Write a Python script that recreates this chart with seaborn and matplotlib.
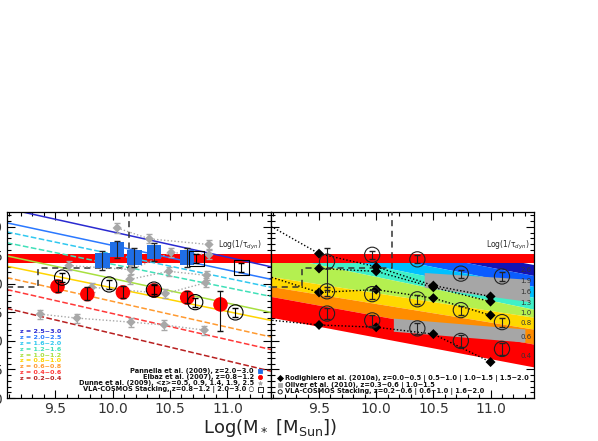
"""
SSFR vs stellar mass: literature comparison (left) and redshift-band model (right).
"""

import matplotlib

matplotlib.use("Agg")
import matplotlib.pyplot as plt
import numpy as np
import pandas as pd
import seaborn as sns
from matplotlib.ticker import FormatStrFormatter, MultipleLocator

# --- Axis ranges ---
XLIM = (9.08, 11.38)
YLIM = (-2.0, 1.26)
XTICKS = [9.5, 10.0, 10.5, 11.0]
YTICKS = [-2.0, -1.5, -1.0, -0.5, 0.0, 0.5, 1.0]

# --- Left panel: fitted SSFR lines per redshift bin (value at left / right edge) ---
Z_BINS = ["2.5\u22123.0", "2.0\u22122.5", "1.6\u22122.0", "1.2\u22121.6", "1.0\u22121.2",
          "0.8\u22121.0", "0.6\u22120.8", "0.4\u22120.6", "0.2\u22120.4"]
Z_COLORS = ["#2a2ad0", "#2a78ff", "#30c8f0", "#40e0b8", "#a8e040",
            "#ffd400", "#ff9a30", "#ff3838", "#b82020"]
Z_STYLES = ["-", "-", "--", "--", "-", "-", "--", "--", "--"]
FIT_LEFT = [1.32, 1.07, 0.91, 0.72, 0.49, 0.31, 0.11, -0.10, -0.43]
FIT_RIGHT = [0.30, 0.08, -0.06, -0.22, -0.50, -0.64, -0.93, -1.15, -1.53]

# 1/tau_dyn band
TAU_LO, TAU_HI = 0.37, 0.53

# mass-completeness step (dashed)
STEP_X = [9.08, 9.35, 9.35, 10.14, 10.14]
STEP_Y = [-0.063, -0.063, 0.286, 0.286, 1.26]

# Pannella et al. (2009)
PAN_M = [9.91, 10.04, 10.19, 10.36, 10.65]
PAN_Y = [0.41, 0.60, 0.46, 0.56, 0.46]
PAN_ERR = [0.17, 0.15, 0.17, 0.16, 0.17]

# Elbaz et al. (2007)
ELB_M = [9.52, 9.78, 10.09, 10.36, 10.65, 10.94]
ELB_Y = [-0.045, -0.18, -0.15, -0.115, -0.24, -0.36]
ELB_ERR_LO = [0.10, 0.10, 0.10, 0.10, 0.10, 0.47]
ELB_ERR_HI = [0.12, 0.12, 0.12, 0.12, 0.12, 0.23]

# Dunne et al. (2009), one list per <z>
DUN25_M = [10.04, 10.32, 10.84]
DUN25_Y = [0.98, 0.79, 0.69]
DUN19_M = [9.62, 10.16, 10.51, 10.84]
DUN19_Y = [0.32, 0.25, 0.55, 0.51]
DUN14_M = [10.15, 10.49, 10.82]
DUN14_Y = [0.08, 0.22, 0.15]
DUN09_M = [9.82, 10.46, 10.81]
DUN09_Y = [-0.06, -0.17, 0.02]
DUN05_M = [9.37, 9.69, 10.16, 10.45, 10.80]
DUN05_Y = [-0.53, -0.60, -0.67, -0.72, -0.81]

# VLA-COSMOS stacking (left)
VLA_C_M = [9.56, 9.97, 10.36, 10.72, 11.07]
VLA_C_Y = [0.11, -0.01, -0.10, -0.32, -0.50]
VLA_S_M = [10.73, 11.12]
VLA_S_Y = [0.44, 0.29]

# --- Right panel: redshift bands, edges at left / right of the panel ---
BAND_LABELS = ["2.6", "1.9", "1.6", "1.3", "1.0", "0.8", "0.6", "0.4"]
BAND_COLORS = ["#1414b4", "#0a5cff", "#00c0ff", "#40f0c8", "#b4f050",
               "#ffd800", "#ff8c00", "#ff0000"]
EDGE_LEFT = [1.21, 1.035, 0.861, 0.686, 0.512, 0.129, -0.045, -0.22, -0.585]
EDGE_RIGHT = [0.338, 0.146, -0.045, -0.237, -0.446, -0.585, -0.794, -1.056, -1.456]

# Rodighiero et al. (2010a)
ROD_M = [9.0, 9.5, 10.0, 10.5, 11.0]
ROD_Z15 = [1.10, 0.53, 0.30, -0.03, -0.22]
ROD_Z10_M = [9.5, 10.0, 10.5, 11.0]
ROD_Z10 = [0.27, 0.22, -0.06, -0.31]
ROD_Z05 = [0.17, -0.15, -0.10, -0.25, -0.55]
ROD_Z00 = [-0.62, -0.72, -0.76, -0.88, -1.37]

# Oliver et al. (2010) boxes: mass range, top and bottom at both ends
OLI_HI_M = [10.42, 11.34]
OLI_HI_TOP = [0.20, 0.08]
OLI_HI_BOT = [-0.06, -0.31]
OLI_LO_M = [10.15, 11.30]
OLI_LO_TOP = [-0.60, -0.79]
OLI_LO_BOT = [-0.83, -1.02]

# VLA-COSMOS stacking (right)
VLA_R_M = [9.57, 9.965, 10.36, 10.74, 11.10]
VLA_R_HI = [0.39, 0.51, 0.43, 0.18, 0.13]
VLA_R_HI_LO = [0.50, 0.07, 0.07, 0.07, 0.08]
VLA_R_HI_UP = [0.24, 0.07, 0.07, 0.07, 0.08]
VLA_R_MID = [-0.13, -0.18, -0.27, -0.46, -0.67]
VLA_R_LOW = [-0.52, -0.64, -0.78, -1.00, -1.14]

sns.set_theme(style="ticks")
plt.rcParams["font.family"] = ["DejaVu Sans"]
plt.rcParams["axes.linewidth"] = 0.9


def style_axes(ax, show_ylabels):
    ax.set_xlim(*XLIM)
    ax.set_ylim(*YLIM)
    ax.set_xticks(XTICKS)
    ax.set_yticks(YTICKS)
    ax.xaxis.set_minor_locator(MultipleLocator(0.1))
    ax.yaxis.set_minor_locator(MultipleLocator(0.1))
    ax.xaxis.set_major_formatter(FormatStrFormatter("%.1f"))
    ax.yaxis.set_major_formatter(FormatStrFormatter("%.1f"))
    ax.tick_params(which="both", direction="in", top=True, right=True, width=0.8,
                   colors="black", labelcolor="#333333")
    ax.tick_params(which="major", length=6, labelsize=10, pad=3)
    ax.tick_params(which="minor", length=3)
    if not show_ylabels:
        ax.tick_params(labelleft=False)
    ax.set_xlabel("")
    ax.set_ylabel("")
    for sp in ax.spines.values():
        sp.set_color("black")


def edge_line(left, right, xs):
    return left + (right - left) * (xs - XLIM[0]) / (XLIM[1] - XLIM[0])


fig = plt.figure(figsize=(5.98, 4.41), dpi=100)
ax1 = fig.add_axes([7 / 598, 43 / 441, 264 / 598, 186 / 441])
ax2 = fig.add_axes([271 / 598, 43 / 441, 263 / 598, 186 / 441])

xs = np.linspace(XLIM[0], XLIM[1], 60)

# ---------------- left panel ----------------
ax1.axhspan(TAU_LO, TAU_HI, color="#ff0000", lw=0, zorder=1)
ax1.text(11.3, TAU_HI + 0.03, "Log(1/\u03c4$_{dyn}$)", fontsize=5.5, ha="right", va="bottom")

for lab, col, ls, yl, yr in zip(Z_BINS, Z_COLORS, Z_STYLES, FIT_LEFT, FIT_RIGHT):
    fit = pd.DataFrame({"m": [XLIM[0], XLIM[1]], "y": [yl, yr]})
    sns.lineplot(data=fit, x="m", y="y", ax=ax1, color=col, lw=1.1, ls=ls,
                 estimator=None, sort=False, zorder=2)

ax1.plot(STEP_X, STEP_Y, color="#333333", lw=1.1, dashes=(4, 3), zorder=3)

# Dunne stacks
for m, y in [(DUN25_M, DUN25_Y), (DUN19_M, DUN19_Y), (DUN14_M, DUN14_Y),
             (DUN09_M, DUN09_Y), (DUN05_M, DUN05_Y)]:
    ax1.plot(m, y, color="#a8a8a8", ls=(0, (1, 1.5)), lw=1.0, zorder=3)
    ax1.errorbar(m, y, yerr=0.08, fmt="none", ecolor="#a8a8a8", elinewidth=0.8,
                 capsize=2.5, zorder=3)
    sns.scatterplot(x=m, y=y, ax=ax1, marker="D", s=22, color="#a8a8a8",
                    edgecolor="none", zorder=4)

# Pannella squares
ax1.errorbar(PAN_M, PAN_Y, yerr=PAN_ERR, fmt="none", ecolor="#222222",
             elinewidth=0.8, capsize=2.5, zorder=5)
sns.scatterplot(x=PAN_M, y=PAN_Y, ax=ax1, marker="s", s=110, color="#1f6ee6",
                edgecolor="none", zorder=4)

# Elbaz circles
sns.scatterplot(x=ELB_M, y=ELB_Y, ax=ax1, marker="o", s=110, color="#ff0000",
                edgecolor="none", zorder=4)
ax1.errorbar(ELB_M, ELB_Y, yerr=[ELB_ERR_LO, ELB_ERR_HI], fmt="none",
             ecolor="#111111", elinewidth=0.8, capsize=2.5, zorder=5)

# VLA-COSMOS stacking
sns.scatterplot(x=VLA_C_M, y=VLA_C_Y, ax=ax1, marker="o", s=120, facecolor="none",
                edgecolor="black", linewidth=0.8, zorder=6)
ax1.errorbar(VLA_C_M, VLA_C_Y, yerr=0.08, fmt="none", ecolor="black",
             elinewidth=0.8, capsize=2.5, zorder=6)
sns.scatterplot(x=VLA_S_M, y=VLA_S_Y, ax=ax1, marker="s", s=120, facecolor="none",
                edgecolor="black", linewidth=0.8, zorder=6)
ax1.errorbar(VLA_S_M, VLA_S_Y, yerr=0.08, fmt="none", ecolor="black",
             elinewidth=0.8, capsize=2.5, zorder=6)

# redshift key
for i, (lab, col) in enumerate(zip(Z_BINS, Z_COLORS)):
    ax1.text(0.05, 0.355 - i * 0.031, f"z = {lab}", transform=ax1.transAxes,
             fontsize=4.6, color=col, fontweight="bold", va="center")

lit_lines = [
    ("Pannella et al. (2009), z=2.0\u22123.0", "s", "#1f6ee6", "#1f6ee6"),
    ("Elbaz et al. (2007), z=0.8\u22121.2", "o", "#ff0000", "#ff0000"),
    ("Dunne et al. (2009), <z>=0.5, 0.9, 1.4, 1.9, 2.5", "*", "#a8a8a8", "#a8a8a8"),
    ("VLA-COSMOS Stacking, z=0.8\u22121.2 | 2.0\u22123.0 \u25cb", "s", "none", "black"),
]
for i, (txt, mk, fc, ec) in enumerate(lit_lines):
    yy = 0.145 - i * 0.033
    ax1.text(0.935, yy, txt, transform=ax1.transAxes, fontsize=4.8, ha="right",
             va="center", fontweight="bold", color="#111111")
    ax1.scatter([0.96], [yy], transform=ax1.transAxes, marker=mk, s=9,
                facecolor=fc, edgecolor=ec, linewidth=0.6, zorder=7)

style_axes(ax1, True)

# ---------------- right panel ----------------
for i, col in enumerate(BAND_COLORS):
    top = np.minimum(edge_line(EDGE_LEFT[i], EDGE_RIGHT[i], xs), (TAU_LO + TAU_HI) / 2)
    bot = np.minimum(edge_line(EDGE_LEFT[i + 1], EDGE_RIGHT[i + 1], xs),
                     (TAU_LO + TAU_HI) / 2)
    ax2.fill_between(xs, bot, top, color=col, lw=0, zorder=1)
    ax2.text(XLIM[1] - 0.02, (top[-1] + bot[-1]) / 2, BAND_LABELS[i], fontsize=5,
             ha="right", va="center", color="#333333", zorder=8)

ax2.axhspan(TAU_LO, TAU_HI, color="#ff0000", lw=0, zorder=2)
ax2.text(11.34, TAU_HI + 0.03, "Log(1/\u03c4$_{dyn}$)", fontsize=5.5, ha="right", va="bottom")
ax2.plot(STEP_X, STEP_Y, color="#333333", lw=1.1, dashes=(4, 3), zorder=3)

for m, top, bot in [(OLI_HI_M, OLI_HI_TOP, OLI_HI_BOT), (OLI_LO_M, OLI_LO_TOP, OLI_LO_BOT)]:
    ax2.fill_between(m, bot, top, color="#a6a6a6", lw=0, zorder=3)

for m, y in [(ROD_M, ROD_Z15), (ROD_Z10_M, ROD_Z10), (ROD_M, ROD_Z05), (ROD_M, ROD_Z00)]:
    ax2.plot(m, y, color="black", ls=(0, (1, 1.5)), lw=1.0, zorder=4)
    sns.scatterplot(x=m, y=y, ax=ax2, marker="D", s=26, color="black",
                    edgecolor="none", zorder=5)

for y, lo, hi in [(VLA_R_HI, VLA_R_HI_LO, VLA_R_HI_UP),
                  (VLA_R_MID, [0.08] * 5, [0.08] * 5),
                  (VLA_R_LOW, [0.1] * 5, [0.1] * 5)]:
    sns.scatterplot(x=VLA_R_M, y=y, ax=ax2, marker="o", s=120, facecolor="none",
                    edgecolor="#222222", linewidth=0.8, zorder=6)
    ax2.errorbar(VLA_R_M, y, yerr=[lo, hi], fmt="none", ecolor="#222222",
                 elinewidth=0.8, capsize=2.5, zorder=6)

right_lines = [
    ("Rodighiero et al. (2010a), z=0.0\u22120.5 | 0.5\u22121.0 | 1.0\u22121.5 | 1.5\u22122.0", "D", "black", "black"),
    ("Oliver et al. (2010), z=0.3\u22120.6 | 1.0\u22121.5", "s", "#a6a6a6", "#a6a6a6"),
    ("VLA-COSMOS Stacking, z=0.2\u22120.6 | 0.6\u22121.0 | 1.6\u22122.0", "o", "none", "black"),
]
for i, (txt, mk, fc, ec) in enumerate(right_lines):
    yy = 0.105 - i * 0.036
    ax2.scatter([0.035], [yy], transform=ax2.transAxes, marker=mk, s=9,
                facecolor=fc, edgecolor=ec, linewidth=0.6, zorder=7)
    ax2.text(0.055, yy, txt, transform=ax2.transAxes, fontsize=4.8, ha="left",
             va="center", fontweight="bold", color="#111111")

style_axes(ax2, False)

fig.text(0.452, 0.03, "Log(M$_*$ [M$_{\\rm Sun}$])", fontsize=13, ha="center",
         va="center", color="#222222")

fig.savefig("out.png", dpi=100, facecolor="white")
